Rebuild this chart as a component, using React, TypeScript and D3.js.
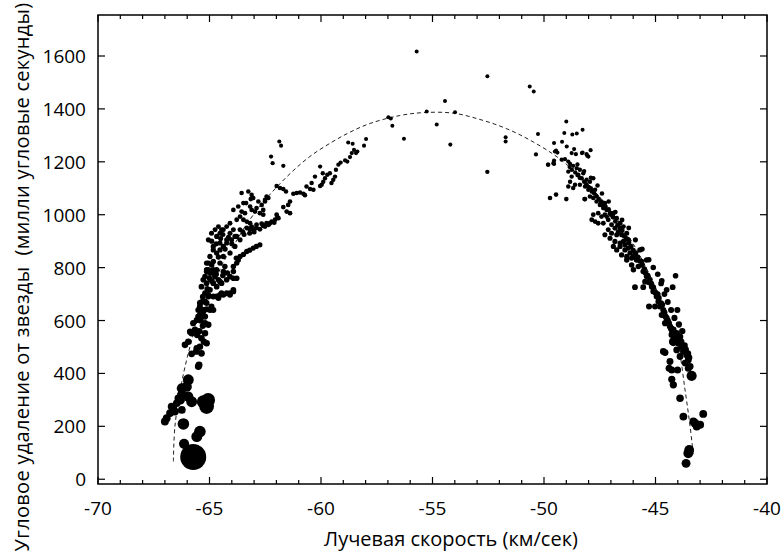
import React from "react";
import * as d3 from "d3";

// радиальная скорость (км/сек), угловое удаление (mas)
const topScatter: [number, number][] = [
  [-55.71, 1617], [-52.54, 1523], [-50.64, 1485], [-50.46, 1466], [-54.44, 1430],
  [-56.98, 1368], [-56.87, 1364], [-55.26, 1390], [-53.99, 1387], [-56.8, 1336],
  [-54.81, 1341], [-56.28, 1287], [-54.2, 1265], [-51.72, 1293], [-51.72, 1277],
  [-52.54, 1162], [-50.27, 1305], [-50.36, 1228],
];

const rightArm: [number, number][] = [
  [-49.55, 1271], [-49.46, 1242], [-49.82, 1189], [-49.55, 1192], [-49.55, 1204],
  [-49.73, 1063], [-49.46, 1076], [-49.0, 1352], [-49.09, 1309], [-48.73, 1303],
  [-48.53, 1307], [-48.27, 1321], [-49.19, 1276], [-48.98, 1258], [-48.3, 1233],
  [-48.06, 1223], [-47.91, 1244], [-49.0, 1059], [-48.18, 1059], [-49.51, 1239],
  [-49.4, 1235], [-48.65, 1248], [-48.76, 1233], [-48.57, 1229], [-48.27, 1235],
  [-48.09, 1229], [-48.01, 1220], [-49.81, 1189], [-49.58, 1195], [-49.21, 1208],
  [-49.06, 1210], [-48.91, 1201], [-48.83, 1192], [-48.69, 1185], [-48.53, 1176],
  [-48.39, 1170], [-48.24, 1157], [-48.46, 1151], [-48.31, 1138], [-48.09, 1132],
  [-47.94, 1125], [-47.79, 1138], [-48.91, 1163], [-48.76, 1144], [-48.83, 1125],
  [-48.61, 1113], [-48.69, 1101], [-48.91, 1107], [-48.39, 1113], [-48.16, 1107],
  [-48.01, 1094], [-47.86, 1088], [-47.71, 1094], [-47.94, 1069], [-47.79, 1063],
  [-48.16, 1059], [-47.64, 1050], [-47.49, 1037], [-47.34, 1025], [-47.27, 1044],
  [-47.19, 1018], [-47.04, 1006], [-47.19, 993], [-47.42, 993], [-47.57, 1006],
  [-47.79, 1000], [-47.86, 981], [-47.71, 974], [-47.57, 968], [-47.34, 968],
  [-47.12, 981], [-46.97, 962], [-46.82, 949], [-46.67, 936], [-46.52, 924],
  [-46.97, 930], [-47.12, 943], [-47.27, 924], [-47.04, 911], [-46.82, 899],
  [-46.59, 893], [-46.37, 886], [-46.22, 874], [-46.14, 855], [-46.29, 842],
  [-46.52, 848], [-46.74, 867], [-46.89, 880], [-46.07, 836], [-45.85, 829],
  [-45.92, 848], [-47.34, 1031], [-46.89, 1006], [-47.27, 1000], [-46.74, 987],
  [-46.59, 968], [-46.44, 955], [-46.74, 924], [-46.29, 930], [-46.22, 905],
  [-46.44, 899], [-46.59, 880], [-46.37, 867], [-45.99, 842], [-46.29, 829],
  [-46.07, 810], [-45.99, 792], [-45.77, 804], [-45.55, 785], [-45.62, 823],
  [-45.4, 766], [-45.25, 754], [-45.47, 747], [-45.17, 728], [-45.1, 710],
  [-44.95, 691], [-44.87, 672], [-45.02, 653], [-44.8, 653], [-44.65, 640],
  [-44.72, 621], [-44.5, 609], [-44.57, 590], [-44.35, 577], [-44.2, 565],
  [-44.05, 552], [-43.9, 539], [-44.27, 546], [-44.13, 527], [-43.97, 514],
  [-43.82, 501], [-43.75, 483], [-43.6, 470], [-43.53, 451], [-44.05, 489],
  [-43.9, 464], [-43.67, 439], [-43.53, 420], [-45.92, 726], [-45.55, 726],
  [-45.29, 653], [-44.72, 750], [-44.5, 716], [-44.23, 726], [-44.1, 769],
  [-44.02, 640], [-45.7, 867], [-45.4, 829], [-43.75, 495], [-43.45, 426],
  [-44.57, 479], [-44.65, 483], [-44.35, 445], [-44.39, 420], [-44.27, 413],
  [-44.01, 413], [-44.27, 378], [-44.2, 357], [-43.9, 306], [-43.75, 237],
  [-43.15, 199], [-43.3, 218], [-42.86, 247], [-43.0, 206],
  // плотная полоса
  [-48.85, 1180], [-48.75, 1170], [-48.6, 1160], [-48.5, 1150], [-48.4, 1140],
  [-48.2, 1125], [-48.1, 1115], [-48.0, 1105], [-47.9, 1100], [-47.75, 1080],
  [-47.65, 1070], [-47.55, 1060], [-47.45, 1050], [-47.35, 1045], [-47.25, 1030],
  [-47.1, 1020], [-47.0, 1000], [-46.9, 990], [-46.8, 975], [-46.7, 960],
  [-46.6, 950], [-46.5, 940], [-46.4, 920], [-46.3, 910], [-46.2, 895],
  [-46.1, 880], [-46.0, 865], [-45.9, 855], [-45.8, 840], [-45.7, 825],
  [-45.6, 810], [-45.5, 795], [-45.45, 780], [-45.35, 770], [-45.3, 745],
  [-45.2, 740], [-45.1, 725], [-45.0, 705], [-44.9, 700], [-44.85, 685],
  [-44.75, 665], [-44.7, 660], [-44.6, 630], [-44.55, 615], [-44.45, 600],
  [-44.4, 590], [-44.3, 570], [-44.25, 560], [-44.15, 545], [-44.0, 530],
  [-43.85, 520], [-43.7, 505], [-43.65, 490], [-43.55, 475], [-43.5, 460],
  [-48.5, 1190], [-48.2, 1165], [-47.9, 1140], [-47.6, 1110], [-47.4, 1080],
  [-47.1, 1050], [-46.8, 1010], [-46.5, 980], [-46.2, 950], [-45.9, 905],
  [-45.6, 870], [-45.3, 830], [-45.1, 800], [-44.9, 775], [-44.75, 740],
  [-44.6, 700], [-44.45, 670], [-44.3, 640], [-44.15, 610], [-43.95, 585],
  [-43.8, 560],
];

const leftArm: [number, number][] = [
  [-61.87, 1277], [-61.79, 1261], [-62.24, 1220], [-62.17, 1195], [-61.69, 1185],
  [-61.99, 1109], [-61.84, 1101], [-61.69, 1097], [-61.57, 1088], [-61.39, 1050],
  [-61.47, 1037], [-61.54, 1012], [-61.39, 1006], [-61.69, 1029], [-62.44, 1069],
  [-62.51, 1050], [-62.89, 1025], [-62.59, 1018], [-61.24, 1079], [-61.09, 1082],
  [-60.94, 1084], [-60.79, 1079], [-60.72, 1074], [-60.65, 1107], [-60.49, 1097],
  [-60.34, 1094], [-60.42, 1120], [-60.27, 1144], [-60.04, 1109], [-59.97, 1113],
  [-59.9, 1125], [-59.82, 1138], [-59.72, 1151], [-59.6, 1157], [-59.53, 1120],
  [-59.45, 1132], [-59.37, 1144], [-59.33, 1170], [-59.22, 1189], [-59.12, 1197],
  [-58.92, 1205], [-58.82, 1201], [-58.7, 1218], [-58.62, 1233], [-58.52, 1245],
  [-58.43, 1233], [-58.37, 1239], [-58.07, 1261], [-57.98, 1286], [-58.78, 1273],
  [-58.58, 1268], [-60.04, 1182], [-59.92, 1157],
  [-63.11, 1075], [-63.04, 1063], [-62.81, 1050], [-62.66, 1037], [-62.51, 1056],
  [-62.36, 1063], [-63.18, 1031], [-63.11, 1018], [-62.96, 1012], [-62.74, 1006],
  [-62.59, 1000], [-63.56, 1012], [-63.41, 1006], [-63.48, 981], [-63.33, 974],
  [-63.18, 968], [-63.33, 950], [-63.04, 943], [-62.74, 945], [-62.51, 955],
  [-62.29, 968], [-62.06, 981], [-61.91, 987], [-63.63, 943], [-63.11, 955],
  [-62.89, 962], [-62.66, 966], [-62.44, 968], [-62.21, 974], [-61.99, 1000],
  [-63.63, 842], [-63.33, 861], [-63.04, 874], [-62.74, 886], [-63.93, 804],
  [-63.78, 817], [-63.71, 829], [-63.93, 1018], [-63.71, 1031], [-63.48, 1044],
  [-63.78, 981], [-63.63, 993], [-63.56, 1082], [-63.26, 1088], [-63.36, 1044],
  [-63.15, 1059],
  [-63.5, 935], [-63.2, 945], [-62.9, 950], [-62.6, 958], [-62.35, 962],
  [-62.1, 970], [-61.95, 990], [-63.45, 925], [-63.2, 930], [-63.0, 935],
  [-63.48, 850], [-63.2, 866], [-62.9, 880], [-63.8, 836],
  [-64.68, 918], [-64.53, 930], [-64.38, 943], [-64.23, 955], [-64.08, 968],
  [-63.93, 943], [-63.86, 918], [-64.01, 905], [-64.23, 893], [-64.38, 880],
  [-64.53, 867], [-64.68, 855], [-64.83, 867], [-64.98, 842], [-65.05, 817],
  [-65.13, 792], [-65.2, 766], [-65.28, 754], [-64.98, 779], [-64.83, 792],
  [-64.76, 766], [-64.6, 754], [-64.46, 741], [-64.23, 754], [-64.08, 766],
  [-63.93, 760], [-65.36, 728], [-65.2, 703], [-65.05, 691], [-64.83, 691],
  [-64.53, 697], [-64.38, 697], [-64.08, 703], [-63.93, 716], [-65.43, 653],
  [-65.28, 640], [-65.13, 666], [-64.91, 653], [-65.5, 615], [-65.2, 615],
  [-65.05, 905], [-64.91, 930], [-64.75, 943], [-64.6, 955], [-64.46, 943],
  [-64.83, 880], [-64.53, 893], [-64.23, 905], [-64.08, 930], [-63.78, 918],
  [-63.63, 905], [-63.86, 880], [-64.08, 855], [-64.38, 842], [-64.53, 817],
  [-64.83, 823], [-65.13, 817], [-65.05, 792], [-64.68, 792], [-64.31, 804],
  [-64.9, 900], [-64.7, 890], [-64.5, 910], [-64.4, 925], [-64.15, 915],
  [-64.0, 890], [-64.3, 870], [-64.6, 840], [-64.9, 810], [-65.0, 760],
  [-64.9, 750], [-64.7, 775], [-64.4, 770], [-64.2, 780], [-65.3, 690],
  [-65.1, 720], [-65.35, 670], [-65.4, 600], [-65.3, 580], [-65.55, 545],
  [-65.45, 560],
  [-65.36, 476], [-65.59, 483], [-65.8, 474], [-66.1, 508], [-65.95, 520],
  [-65.57, 495], [-65.43, 501], [-65.25, 520], [-65.13, 514], [-65.36, 533],
  [-65.2, 552], [-65.65, 565], [-65.8, 552], [-65.87, 558], [-65.73, 590],
  [-65.57, 602], [-65.43, 621], [-65.28, 634], [-65.13, 643], [-64.98, 640],
  [-64.83, 640], [-65.36, 615], [-65.2, 590], [-65.05, 584], [-65.5, 640],
  [-65.43, 666], [-65.2, 672], [-65.05, 697], [-64.98, 716], [-64.83, 741],
  [-64.68, 728], [-64.53, 747], [-65.13, 741], [-64.83, 779], [-65.13, 785],
  [-64.46, 703], [-64.23, 703], [-64.08, 697], [-63.93, 710], [-63.78, 760],
  [-63.93, 785], [-64.38, 785], [-64.68, 691], [-64.6, 685], [-65.47, 432],
  [-65.5, 426], [-66.47, 287], [-66.62, 268], [-66.77, 250], [-66.92, 231],
  [-67.0, 218], [-66.7, 275], [-66.4, 306], [-66.24, 262], [-66.55, 256],
];

// яркие измерения: [скорость, удаление, относительная яркость]
const brightPoints: [number, number, number][] = [
  [-65.73, 84, 170], [-66.14, 134, 26], [-65.43, 180, 34], [-65.57, 161, 30],
  [-66.17, 209, 34], [-65.13, 275, 55], [-65.06, 300, 48], [-65.28, 293, 42],
  [-65.8, 293, 30], [-65.95, 312, 26], [-66.32, 300, 24], [-66.24, 319, 24],
  [-65.95, 376, 30], [-66.24, 344, 26], [-66.02, 350, 26], [-43.38, 391, 26],
  [-43.49, 111, 24], [-43.53, 98, 24], [-43.63, 60, 20], [-44.2, 520, 20],
  [-43.23, 212, 20],
];

// пунктирная кривая (модель орбиты)
const modelCurve: [number, number][] = [
  [-66.62, 67], [-66.55, 200], [-66.25, 365], [-65.8, 525], [-65.43, 625],
  [-65.0, 700], [-64.38, 820], [-63.8, 900], [-63.33, 965], [-62.44, 1062],
  [-61.39, 1155], [-60.5, 1220], [-59.5, 1275], [-58.7, 1312], [-57.8, 1345],
  [-56.46, 1375], [-55.41, 1386], [-54.07, 1384], [-52.87, 1360], [-51.67, 1325],
  [-50.48, 1275], [-49.28, 1210], [-48.0, 1112], [-47.0, 1015], [-46.0, 890],
  [-45.0, 725], [-44.4, 590], [-43.98, 500], [-43.68, 340], [-43.45, 200],
  [-43.3, 90],
];

const xMajor = [-70, -65, -60, -55, -50, -45, -40];
const yMajor = [0, 200, 400, 600, 800, 1000, 1200, 1400, 1600];

const W = 784;
const H = 557;
const m = { left: 98, right: 767, top: 15, bottom: 484 };
const FONT = "'Open Sans', 'DejaVu Sans', sans-serif";

export default function App() {
  const x = d3.scaleLinear().domain([-70, -40]).range([m.left, m.right]);
  const y = d3.scaleLinear().domain([-18, 1755]).range([m.bottom, m.top]);
  const rByY = d3.scaleLinear().domain([200, 600, 1000, 1300]).range([4, 3.1, 2.4, 2.0]).clamp(true);
  const rBright = d3.scaleSqrt().domain([0, 170]).range([0, 13]);
  const xMinor = d3.range(-70, -39, 1).filter((v) => v % 5 !== 0);
  const line = d3
    .line<[number, number]>()
    .x((d) => x(d[0]))
    .y((d) => y(d[1]))
    .curve(d3.curveCatmullRom);

  const regular = [...topScatter, ...rightArm, ...leftArm];

  return (
    <svg
      width={W}
      height={H}
      style={{ position: "absolute", left: 0, top: 0, background: "#fff" }}
      fontFamily={FONT}
    >
      <path d={line(modelCurve) || ""} fill="none" stroke="#222" strokeWidth={1} strokeDasharray="4,3" />
      {regular.map((d, i) => (
        <circle key={"p" + i} cx={x(d[0])} cy={y(d[1])} r={rByY(d[1])} fill="#000" />
      ))}
      {brightPoints.map((d, i) => (
        <circle key={"b" + i} cx={x(d[0])} cy={y(d[1])} r={rBright(d[2])} fill="#000" />
      ))}

      <rect
        x={m.left}
        y={m.top}
        width={m.right - m.left}
        height={m.bottom - m.top}
        fill="none"
        stroke="#000"
        strokeWidth={1.5}
      />
      {xMajor.map((v) => (
        <g key={"xM" + v}>
          <line x1={x(v)} x2={x(v)} y1={m.bottom} y2={m.bottom - 7} stroke="#000" strokeWidth={1.2} />
          <line x1={x(v)} x2={x(v)} y1={m.top} y2={m.top + 7} stroke="#000" strokeWidth={1.2} />
          <text x={x(v)} y={515} textAnchor="middle" fontSize={19}>
            {v}
          </text>
        </g>
      ))}
      {xMinor.map((v) => (
        <g key={"xm" + v}>
          <line x1={x(v)} x2={x(v)} y1={m.bottom} y2={m.bottom - 4} stroke="#000" strokeWidth={1.2} />
          <line x1={x(v)} x2={x(v)} y1={m.top} y2={m.top + 4} stroke="#000" strokeWidth={1.2} />
        </g>
      ))}
      {yMajor.map((v) => (
        <g key={"y" + v}>
          <line x1={m.left} x2={m.left + 7} y1={y(v)} y2={y(v)} stroke="#000" strokeWidth={1.2} />
          <line x1={m.right} x2={m.right - 7} y1={y(v)} y2={y(v)} stroke="#000" strokeWidth={1.2} />
          <text x={86} y={y(v) + 7} textAnchor="end" fontSize={19}>
            {v}
          </text>
        </g>
      ))}

      <text x={451} y={546} textAnchor="middle" fontSize={20}>
        Лучевая скорость (км/сек)
      </text>
      <text
        transform={`translate(29, 277) rotate(-90)`}
        textAnchor="middle"
        fontSize={20}
        letterSpacing={0.3}
        style={{ whiteSpace: "pre" }}
      >
        {"Угловое удаление от звезды  (милли угловые секунды)"}
      </text>
    </svg>
  );
}
